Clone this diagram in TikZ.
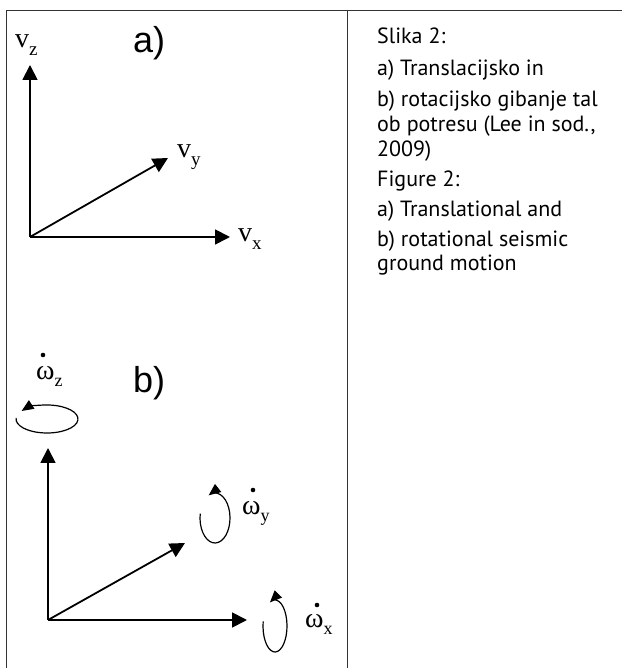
\documentclass[tikz,border=0pt]{standalone}
\usepackage{fontspec}
\setmainfont{Liberation Serif}
\newfontfamily\capfont{PT Sans}
\newfontfamily\tagfont{Liberation Sans}
\usetikzlibrary{arrows.meta}

\newcommand{\velsub}[1]{v\raisebox{-8pt}{\fontsize{19}{19}\selectfont #1}}
\newcommand{\spinsub}[1]{ω\raisebox{-7pt}{\fontsize{18}{18}\selectfont #1}}

\begin{document}
\begin{tikzpicture}[x=1pt,y=1pt,
  axis/.style={line width=1.8pt,-{Triangle[length=15pt,width=15pt]}},
  spin/.style={line width=1.2pt,-{Triangle[length=12pt,width=10pt]}},
  vlabel/.style={font=\fontsize{28}{28}\selectfont,anchor=base west,inner sep=0pt},
  wlabel/.style={font=\fontsize{28}{28}\selectfont,anchor=base west,inner sep=0pt},
  tag/.style={font=\tagfont\fontsize{36}{36}\selectfont,anchor=base west,inner sep=0pt},
  captxt/.style={font=\capfont\fontsize{22}{24}\selectfont,anchor=base west,inner sep=0pt}]

\useasboundingbox (0,0) rectangle (622,668);

% frame
\draw[line width=1pt,black!80] (6,0) -- (6,657) -- (622,657);
\draw[line width=1pt,black!80] (347.5,657) -- (347.5,0);

% a) translation
\coordinate (oa) at (30,431);
\coordinate (za) at (30,603);
\coordinate (xa) at (230,431);
\coordinate (ya) at (168,510);
\draw[axis] (oa) -- (za);
\draw[axis] (oa) -- (xa);
\draw[axis] (oa) -- (ya);
\node[vlabel] (vz) at (15,620) {\velsub{z}};
\node[vlabel] (vy) at (177,510) {\velsub{y}};
\node[vlabel] (vx) at (238,426) {\velsub{x}};
\node[tag] (taga) at (133,615) {a)};

% b) rotation
\coordinate (ob) at (48,48);
\coordinate (zb) at (48,220);
\coordinate (xb) at (247,48);
\coordinate (yb) at (185,125);
\draw[axis] (ob) -- (zb);
\draw[axis] (ob) -- (xb);
\draw[axis] (ob) -- (yb);
\coordinate (cz) at (47,249);
\coordinate (cy) at (215,150);
\coordinate (cx) at (275,42);
\draw[spin] (cz) ++(175:31 and 14) arc[start angle=175,end angle=505,x radius=31,y radius=14];
\draw[spin] (cy) ++(170:15 and 25) arc[start angle=170,end angle=475,x radius=15,y radius=25];
\draw[spin] (cx) ++(170:12 and 26) arc[start angle=170,end angle=475,x radius=12,y radius=26];
\node[wlabel] (wz) at (36,288) {\spinsub{z}};
\node[wlabel] (wy) at (242,153) {\spinsub{y}};
\node[wlabel] (wx) at (305,40) {\spinsub{x}};
% dots of the time derivative
\fill (43,313) circle (2.3pt);
\fill (253,178) circle (2.3pt);
\fill (317,63) circle (2.3pt);
\node[tag] (tagb) at (133,275) {b)};

% caption
\foreach \yy/\txt [count=\i] in {624/{Slika 2:}, 592/{a) Translacijsko in},
    561/{b) rotacijsko gibanje tal}, 536/{ob potresu (Lee in sod.,}, 511/{2009)},
    481/{Figure 2:}, 451/{a) Translational and}, 421/{b) rotational seismic},
    397/{ground motion}}
  \node[captxt] (cap\i) at (377,\yy) {\txt};

\end{tikzpicture}
\end{document}
